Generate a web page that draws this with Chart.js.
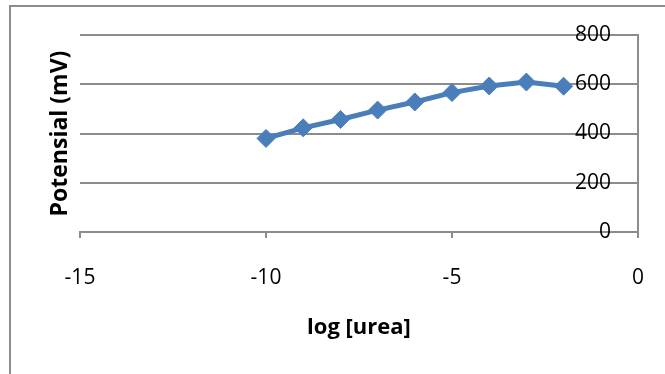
<!DOCTYPE html>
<html>
<head>
<meta charset="utf-8">
<script src="https://cdn.jsdelivr.net/npm/chart.js@4"></script>
<style>
  html, body { margin: 0; padding: 0; background: #fff; }
  #wrap { position: relative; width: 665px; height: 374px; overflow: hidden; }
  /* chart frame: only the left and top edges fall inside the page */
  #frame {
    position: absolute; left: 9px; top: 5px; right: -10px; bottom: -10px;
    border-left: 2px solid #8c8c8c; border-top: 2px solid #8c8c8c;
  }
  canvas { position: absolute; left: 0; top: 0; }
</style>
</head>
<body>
<div id="wrap">
  <div id="frame"></div>
  <canvas id="chart" width="665" height="374"></canvas>
</div>
<script>
// log of urea concentration vs. measured electrode potential
const logUrea = [-10, -9, -8, -7, -6, -5, -4, -3, -2];
const potential = [380, 423, 457, 495, 528, 566, 593, 609, 592];

const xMin = -15, xMax = 0, xStep = 5;
const yMin = 0, yMax = 800, yStep = 200;

const axisGray = '#8c8c8c';
const lineBlue = '#4a7ebb';

const points = logUrea.map((x, i) => ({ x: x, y: potential[i] }));

// fixed box sizes, and no extra room reserved for overhanging tick labels
function fixWidth(w) {
  return scale => {
    scale.width = w;
    scale.paddingTop = 0;
    scale.paddingBottom = 0;
  };
}
function fixHeight(h) {
  return scale => {
    scale.height = h;
    scale.paddingLeft = 0;
    scale.paddingRight = 0;
  };
}

new Chart(document.getElementById('chart').getContext('2d'), {
  type: 'scatter',
  data: {
    datasets: [{
      data: points,
      showLine: true,
      borderColor: lineBlue,
      backgroundColor: lineBlue,
      borderWidth: 5,
      pointStyle: 'rectRot',
      pointRadius: 9,
      pointHoverRadius: 9,
      pointBorderWidth: 1,
      pointBorderColor: lineBlue,
      yAxisID: 'y'
    }]
  },
  options: {
    responsive: false,
    animation: false,
    devicePixelRatio: 1,
    layout: { padding: { top: 35, left: 0, right: 0, bottom: 0 } },
    plugins: {
      legend: { display: false },
      tooltip: { enabled: false }
    },
    scales: {
      x: {
        type: 'linear',
        position: 'bottom',
        min: xMin,
        max: xMax,
        ticks: {
          stepSize: xStep,
          color: '#000',
          padding: 27,
          font: { family: 'Open Sans', size: 21 }
        },
        grid: {
          drawOnChartArea: false,
          drawTicks: true,
          tickLength: 6,
          color: axisGray,
          lineWidth: 2
        },
        border: { display: true, color: axisGray, width: 2 },
        title: {
          display: true,
          text: 'log [urea]',
          color: '#000',
          padding: { top: 0, bottom: 33 },
          font: { family: 'Open Sans', size: 22, weight: 'bold' }
        },
        afterFit: fixHeight(142)
      },
      y: {
        type: 'linear',
        position: 'right',
        min: yMin,
        max: yMax,
        ticks: {
          stepSize: yStep,
          mirror: true,
          color: '#000',
          padding: -27,
          font: { family: 'Open Sans', size: 21 }
        },
        grid: {
          drawTicks: false,
          color: axisGray,
          lineWidth: 2
        },
        border: { display: true, color: axisGray, width: 2 },
        afterFit: fixWidth(27)
      },
      // left-hand scale only carries the axis title
      yTitle: {
        type: 'linear',
        position: 'left',
        min: yMin,
        max: yMax,
        ticks: { display: false },
        grid: { display: false },
        border: { display: false },
        title: {
          display: true,
          text: 'Potensial (mV)',
          color: '#000',
          padding: { top: 47, bottom: 0 },
          font: { family: 'Open Sans', size: 23, weight: 'bold' }
        },
        afterFit: fixWidth(80)
      }
    }
  }
});
</script>
</body>
</html>
